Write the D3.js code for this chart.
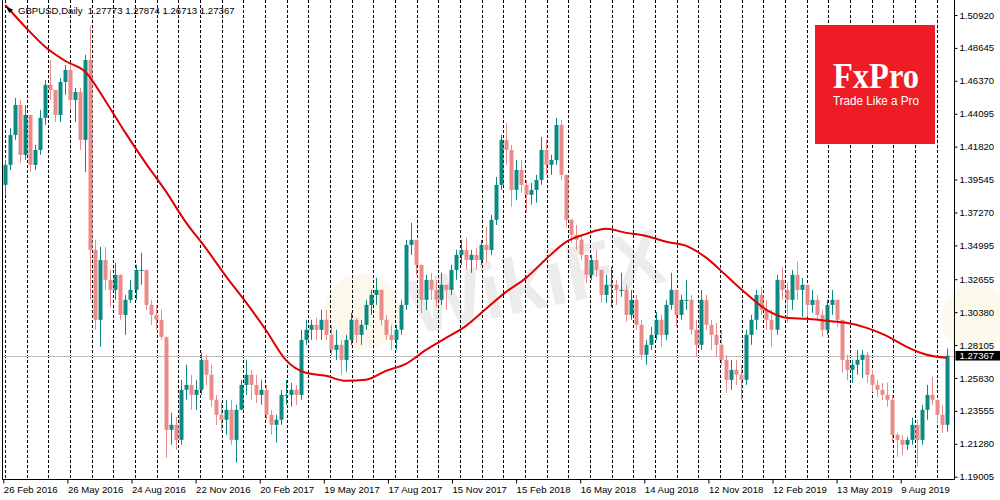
<!DOCTYPE html>
<html>
<head>
<meta charset="utf-8">
<title>GBPUSD Daily</title>
<script src="https://cdnjs.cloudflare.com/ajax/libs/d3/7.8.5/d3.min.js"></script>
<style>
  body { margin: 0; background: #fff; }
</style>
</head>
<body>
<script>
  // header of the chart window
  var symbol = "GBPUSD,Daily";
  var lastBar = [1.27773, 1.27874, 1.26713, 1.27367];   // O H L C of the last day

  // weekly candles, open = previous close
  var firstOpen = 1.3918;
  var weekHigh = [
    1.4090,1.4312,1.4519,1.4505,1.4470,1.4401,1.4194,1.4436,1.4643,1.4781,
    1.4574,1.4657,1.4747,1.4747,1.4588,1.4588,1.4816,1.5016,1.3538,1.3489,
    1.3489,1.3330,1.3379,1.3300,1.3157,1.3261,1.3365,1.3448,1.3330,1.3123,
    1.3088,1.3054,1.2867,1.2342,1.2314,1.2570,1.2674,1.2605,1.2570,1.2757,
    1.2743,1.2674,1.2466,1.2411,1.2432,1.2432,1.2397,1.2570,1.2708,1.2639,
    1.2605,1.2570,1.2535,1.2363,1.2328,1.2501,1.2570,1.2549,1.2535,1.2916,
    1.2985,1.2985,1.2999,1.3054,1.3054,1.2950,1.2916,1.2846,1.2881,1.3033,
    1.2999,1.2985,1.3123,1.3192,1.3275,1.3192,1.3019,1.2950,1.2950,1.3123,
    1.3538,1.3655,1.3538,1.3365,1.3296,1.3310,1.3261,1.3310,1.3227,1.3365,
    1.3468,1.3538,1.3552,1.3468,1.3482,1.3538,1.3627,1.3710,1.3973,1.4263,
    1.4346,1.4194,1.4090,1.4090,1.3952,1.3932,1.3987,1.4249,1.4229,1.4125,
    1.4381,1.4366,1.3987,1.3680,1.3641,1.3572,1.3434,1.3434,1.3468,1.3330,
    1.3296,1.3351,1.3261,1.3310,1.3227,1.3192,1.3157,1.2985,1.2846,1.2936,
    1.3040,1.3019,1.3123,1.3310,1.3192,1.3157,1.3261,1.3157,1.2985,1.3192,
    1.3157,1.2985,1.2964,1.2916,1.2743,1.2708,1.2708,1.2674,1.2916,1.3019,
    1.3192,1.3213,1.3123,1.3054,1.3296,1.3351,1.3241,1.3330,1.3386,1.3275,
    1.3230,1.3192,1.3157,1.3054,1.3123,1.3192,1.3123,1.2985,1.2743,1.2708,
    1.2777,1.2777,1.2764,1.2639,1.2570,1.2549,1.2549,1.2466,1.2204,1.2190,
    1.2176,1.2308,1.2294,1.2397,1.2535,1.2591,1.2432,1.2397,1.2787
  ];
  var weekLow = [
    1.3849,1.4021,1.4229,1.4070,1.4090,1.4007,1.4021,1.4125,1.4332,1.4505,
    1.4353,1.4353,1.4540,1.4436,1.4353,1.4159,1.4007,1.3123,1.2916,1.2798,
    1.3192,1.3075,1.3123,1.2985,1.2881,1.3102,1.3123,1.3227,1.3054,1.2950,
    1.2916,1.2846,1.2031,1.2121,1.2086,1.2121,1.2432,1.2363,1.2363,1.2466,
    1.2535,1.2384,1.2259,1.2224,1.2190,1.2121,1.1997,1.2363,1.2466,1.2432,
    1.2411,1.2397,1.2294,1.2190,1.2135,1.2259,1.2397,1.2384,1.2397,1.2432,
    1.2812,1.2846,1.2846,1.2846,1.2846,1.2743,1.2708,1.2605,1.2626,1.2812,
    1.2826,1.2812,1.2916,1.3019,1.3088,1.2950,1.2846,1.2777,1.2777,1.2881,
    1.3054,1.3434,1.3296,1.3033,1.3054,1.3123,1.3075,1.3088,1.3054,1.3157,
    1.3261,1.3365,1.3330,1.3310,1.3330,1.3365,1.3379,1.3434,1.3641,1.3883,
    1.4056,1.3766,1.3814,1.3863,1.3724,1.3780,1.3794,1.3918,1.3987,1.3987,
    1.4056,1.3952,1.3627,1.3517,1.3468,1.3399,1.3241,1.3261,1.3282,1.3102,
    1.3102,1.3075,1.3088,1.3144,1.2971,1.2985,1.2916,1.2708,1.2674,1.2777,
    1.2846,1.2798,1.2846,1.3054,1.2936,1.2985,1.3054,1.2881,1.2729,1.2777,
    1.2916,1.2777,1.2729,1.2674,1.2480,1.2501,1.2535,1.2432,1.2535,1.2812,
    1.2916,1.3019,1.2916,1.2798,1.2881,1.3123,1.2964,1.3054,1.3123,1.3006,
    1.3006,1.3033,1.2985,1.2867,1.2881,1.3019,1.2936,1.2619,1.2570,1.2549,
    1.2605,1.2584,1.2549,1.2487,1.2453,1.2432,1.2384,1.2135,1.2038,1.2052,
    1.2086,1.2121,1.1970,1.2121,1.2294,1.2397,1.2273,1.2204,1.2211
  ];
  var weekClose = [
    1.4056,1.4263,1.4470,1.4125,1.4401,1.4056,1.4159,1.4381,1.4609,1.4574,
    1.4401,1.4629,1.4712,1.4505,1.4560,1.4229,1.4781,1.3468,1.2985,1.3399,
    1.3261,1.3192,1.3296,1.3019,1.3123,1.3192,1.3330,1.3330,1.3088,1.3019,
    1.2985,1.2867,1.2224,1.2259,1.2155,1.2501,1.2535,1.2466,1.2501,1.2708,
    1.2605,1.2432,1.2328,1.2294,1.2363,1.2155,1.2363,1.2535,1.2605,1.2535,
    1.2466,1.2501,1.2328,1.2259,1.2294,1.2466,1.2466,1.2501,1.2466,1.2846,
    1.2916,1.2950,1.2916,1.2985,1.2881,1.2777,1.2812,1.2708,1.2846,1.2985,
    1.2881,1.2950,1.3088,1.3157,1.3192,1.2985,1.2881,1.2846,1.2916,1.3088,
    1.3503,1.3538,1.3365,1.3123,1.3261,1.3192,1.3123,1.3227,1.3192,1.3330,
    1.3434,1.3468,1.3399,1.3434,1.3399,1.3503,1.3468,1.3676,1.3918,1.4229,
    1.4159,1.3883,1.4021,1.3918,1.3849,1.3883,1.3952,1.4159,1.4056,1.4090,
    1.4332,1.3987,1.3676,1.3572,1.3538,1.3434,1.3296,1.3399,1.3330,1.3157,
    1.3227,1.3227,1.3192,1.3192,1.3019,1.3123,1.2950,1.2743,1.2812,1.2881,
    1.2985,1.2881,1.3088,1.3192,1.3019,1.3123,1.3123,1.2916,1.2812,1.3123,
    1.2950,1.2881,1.2812,1.2708,1.2570,1.2639,1.2605,1.2570,1.2881,1.2985,
    1.3157,1.3054,1.2985,1.2916,1.3261,1.3192,1.3123,1.3296,1.3192,1.3227,
    1.3088,1.3123,1.3019,1.2916,1.3088,1.3123,1.2985,1.2708,1.2639,1.2674,
    1.2708,1.2743,1.2605,1.2535,1.2501,1.2466,1.2432,1.2190,1.2155,1.2121,
    1.2155,1.2259,1.2155,1.2363,1.2466,1.2432,1.2328,1.2259,1.2737
  ];

  // red moving average, one reading every 4 weeks
  var maValues = [
    1.5161,1.5009,1.4871,1.4774,1.4698,1.4498,1.4277,1.4070,1.3876,1.3662,
    1.3482,1.3289,1.3109,1.2916,1.2708,1.2619,1.2598,1.2563,1.2570,1.2632,
    1.2681,1.2777,1.2860,1.2943,1.3061,1.3178,1.3275,1.3406,1.3524,1.3579,
    1.3614,1.3586,1.3565,1.3524,1.3496,1.3413,1.3289,1.3165,1.3054,1.2999,
    1.2992,1.2978,1.2964,1.2929,1.2874,1.2798,1.2743,1.2722
  ];

  var dateLabels = ["26 Feb 2016","26 May 2016","24 Aug 2016","22 Nov 2016","20 Feb 2017",
    "19 May 2017","17 Aug 2017","15 Nov 2017","15 Feb 2018","16 May 2018",
    "14 Aug 2018","12 Nov 2018","12 Feb 2019","13 May 2019","9 Aug 2019"];
  var priceTicks = [1.50920,1.48645,1.46370,1.44095,1.41820,1.39545,1.37270,1.34995,
    1.32655,1.30380,1.28105,1.25830,1.23555,1.21280,1.19005];

  var width = 1000, height = 500;
  var plot = {left: 2.5, right: 954.5, top: 0, bottom: 479.5};
  var barsPerWeek = 5, barsPerLabel = 64;
  var sans = "'Liberation Sans', Arial, sans-serif";

  var svg = d3.select("body").append("svg")
      .attr("width", width)
      .attr("height", height)
      .style("font-family", sans);

  // bar index -> pixel (one day per pixel, like the terminal)
  var x = d3.scaleLinear().domain([0, barsPerLabel * 14]).range([3.3, 900.7]);
  var y = d3.scaleLinear().domain([1.19005, 1.50920]).range([476.7, 15]);

  // faint watermark
  var wm = svg.append("g").attr("opacity", 0.07);
  wm.append("circle").attr("cx", 362).attr("cy", 312).attr("r", 38).attr("fill", "#d9a400");
  wm.append("circle").attr("cx", 975).attr("cy", 318).attr("r", 34).attr("fill", "#d9a400");
  wm.append("text")
      .attr("x", 415).attr("y", 335)
      .attr("transform", "rotate(-12,415,335)")
      .attr("font-size", 78).attr("font-weight", "bold")
      .attr("fill", "#000")
      .text("WikiFX");

  // vertical dotted grid
  var gridBars = d3.range(44).map(function(k) { return 1.7 + k * 21.63; });
  svg.append("g").selectAll("line")
      .data(gridBars)
      .enter().append("line")
      .attr("x1", function(d) { return Math.round(x(d)) + 0.5; })
      .attr("x2", function(d) { return Math.round(x(d)) + 0.5; })
      .attr("y1", plot.top)
      .attr("y2", plot.bottom)
      .attr("stroke", "#000")
      .attr("stroke-dasharray", "3,2");

  // bid line
  svg.append("line")
      .attr("x1", plot.left).attr("x2", plot.right)
      .attr("y1", Math.round(y(lastBar[3])) + 0.5)
      .attr("y2", Math.round(y(lastBar[3])) + 0.5)
      .attr("stroke", "#c0c0c0");

  // candles
  var candles = weekClose.map(function(c, i) {
    return {
      bar: i * barsPerWeek + 2,
      open: i === 0 ? firstOpen : weekClose[i - 1],
      high: weekHigh[i],
      low: weekLow[i],
      close: c
    };
  });
  var upColor = "#0b8a84", downColor = "#ec8a8a";
  var cg = svg.append("g").selectAll("g")
      .data(candles)
      .enter().append("g");
  cg.append("line")
      .attr("x1", function(d) { return Math.round(x(d.bar)) + 0.5; })
      .attr("x2", function(d) { return Math.round(x(d.bar)) + 0.5; })
      .attr("y1", function(d) { return y(d.high); })
      .attr("y2", function(d) { return y(d.low); })
      .attr("stroke", function(d) { return d.close >= d.open ? upColor : downColor; });
  cg.append("rect")
      .attr("x", function(d) { return Math.round(x(d.bar)) - 1.5; })
      .attr("width", 4)
      .attr("y", function(d) { return y(Math.max(d.open, d.close)); })
      .attr("height", function(d) { return Math.max(1, Math.abs(y(d.open) - y(d.close))); })
      .attr("fill", function(d) { return d.close >= d.open ? upColor : downColor; });

  // moving average
  var maLine = d3.line()
      .x(function(d, k) { return x(k * 4 * barsPerWeek + 2); })
      .y(function(d) { return y(d); })
      .curve(d3.curveMonotoneX);
  svg.append("path")
      .datum(maValues)
      .attr("d", maLine)
      .attr("fill", "none")
      .attr("stroke", "#e00000")
      .attr("stroke-width", 2);

  // frame
  svg.append("path")
      .attr("d", "M" + plot.left + "," + plot.top + "V" + plot.bottom + "H" + plot.right + "V" + plot.top)
      .attr("fill", "none")
      .attr("stroke", "#000");

  // price axis
  var yAxis = d3.axisRight(y)
      .tickValues(priceTicks)
      .tickFormat(d3.format(".5f"))
      .tickSize(3)
      .tickSizeOuter(0)
      .tickPadding(2);
  var gy = svg.append("g")
      .attr("transform", "translate(" + plot.right + ",0)")
      .call(yAxis);
  gy.select(".domain").remove();
  gy.selectAll("text")
      .attr("fill", "#000")
      .style("font-size", "9.6px")
      .style("font-family", sans);

  // time axis
  var xAxis = d3.axisBottom(x)
      .tickValues(d3.range(dateLabels.length).map(function(k) { return k * barsPerLabel; }))
      .tickFormat(function(d, i) { return dateLabels[i]; })
      .tickSize(4)
      .tickSizeOuter(0)
      .tickPadding(3);
  var gx = svg.append("g")
      .attr("transform", "translate(0," + plot.bottom + ")")
      .call(xAxis);
  gx.select(".domain").remove();
  gx.selectAll("text")
      .attr("text-anchor", "start")
      .attr("fill", "#000")
      .style("font-size", "9.6px")
      .style("font-family", sans);

  // last price tag
  var ly = y(lastBar[3]);
  svg.append("rect")
      .attr("x", plot.right + 1).attr("y", ly - 4.8)
      .attr("width", width - plot.right).attr("height", 9.6)
      .attr("fill", "#000");
  svg.append("text")
      .attr("x", plot.right + 5).attr("y", ly + 3.4)
      .style("font-size", "9.6px")
      .attr("fill", "#fff")
      .text(d3.format(".5f")(lastBar[3]));

  // header
  svg.append("path")
      .attr("d", "M6,7L13,9.5L9.5,13Z")
      .attr("fill", "#000");
  svg.append("text")
      .attr("x", 18).attr("y", 14)
      .style("font-size", "9.6px")
      .attr("fill", "#000")
      .style("white-space", "pre")
      .text(symbol + "  " + lastBar.map(d3.format(".5f")).join(" "));

  // FxPro badge
  var badge = svg.append("g").attr("transform", "translate(815,25)");
  badge.append("rect")
      .attr("width", 120).attr("height", 119)
      .attr("fill", "#ee1c25");
  badge.append("text")
      .attr("x", 18).attr("y", 63)
      .style("font-family", "'Liberation Serif', 'DejaVu Serif', serif")
      .style("font-size", "36px")
      .attr("font-weight", "bold")
      .attr("fill", "#fff")
      .attr("textLength", 86)
      .attr("lengthAdjust", "spacingAndGlyphs")
      .text("FxPro");
  badge.append("text")
      .attr("x", 18).attr("y", 80)
      .style("font-size", "12px")
      .attr("fill", "#fff")
      .attr("textLength", 86)
      .attr("lengthAdjust", "spacingAndGlyphs")
      .text("Trade Like a Pro");
</script>
</body>
</html>
